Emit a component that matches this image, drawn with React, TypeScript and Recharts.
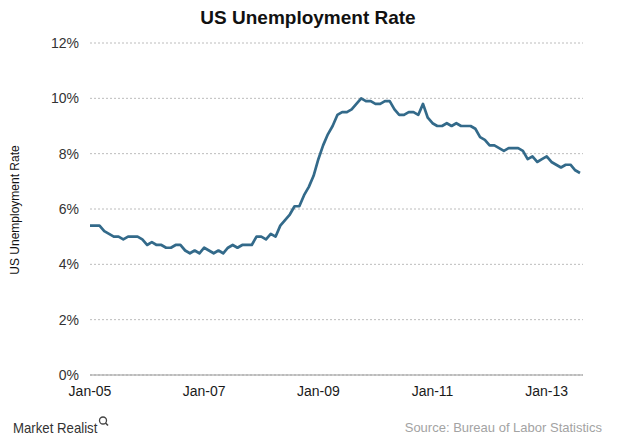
import { LineChart, Line, XAxis, YAxis, CartesianGrid } from 'recharts';

// monthly US unemployment rate, Jan 2005 - Aug 2013 (%)
const rate2005 = [5.4, 5.4, 5.4, 5.2, 5.1, 5.0, 5.0, 4.9, 5.0, 5.0, 5.0, 4.9];
const rate2006 = [4.7, 4.8, 4.7, 4.7, 4.6, 4.6, 4.7, 4.7, 4.5, 4.4, 4.5, 4.4];
const rate2007 = [4.6, 4.5, 4.4, 4.5, 4.4, 4.6, 4.7, 4.6, 4.7, 4.7, 4.7, 5.0];
const rate2008 = [5.0, 4.9, 5.1, 5.0, 5.4, 5.6, 5.8, 6.1, 6.1, 6.5, 6.8, 7.2];
const rate2009 = [7.8, 8.3, 8.7, 9.0, 9.4, 9.5, 9.5, 9.6, 9.8, 10.0, 9.9, 9.9];
const rate2010 = [9.8, 9.8, 9.9, 9.9, 9.6, 9.4, 9.4, 9.5, 9.5, 9.4, 9.8, 9.3];
const rate2011 = [9.1, 9.0, 9.0, 9.1, 9.0, 9.1, 9.0, 9.0, 9.0, 8.9, 8.6, 8.5];
const rate2012 = [8.3, 8.3, 8.2, 8.1, 8.2, 8.2, 8.2, 8.1, 7.8, 7.9, 7.7, 7.8];
const rate2013 = [7.9, 7.7, 7.6, 7.5, 7.6, 7.6, 7.4, 7.3];

const years = ['05', '06', '07', '08', '09', '10', '11', '12', '13'];
const monthNames = ['Jan', 'Feb', 'Mar', 'Apr', 'May', 'Jun', 'Jul', 'Aug', 'Sep', 'Oct', 'Nov', 'Dec'];

const xTicks = [0, 24, 48, 72, 96];
const yTicks = [0, 2, 4, 6, 8, 10, 12];

const rates = [
    ...rate2005, ...rate2006, ...rate2007, ...rate2008, ...rate2009,
    ...rate2010, ...rate2011, ...rate2012, ...rate2013,
];
const monthLabels = rates.map((_, i) => `${monthNames[i % 12]}-${years[Math.floor(i / 12)]}`);
const chartData = rates.map((rate, i) => ({ idx: i, month: monthLabels[i], rate }));

const FONT = 'Arial, "Liberation Sans", sans-serif';

function App() {
    return (
        <div style={{ position: 'absolute', left: 0, top: 0, width: 620, height: 442, background: '#fff', fontFamily: FONT }}>
            {/* 제목 */}
            <div style={{
                position: 'absolute', left: 0, top: 5, width: 616, textAlign: 'center',
                fontSize: 19, fontWeight: 'bold', color: '#111', lineHeight: '26px'
            }}>
                US Unemployment Rate
            </div>

            {/* 세로축 제목 */}
            <div style={{
                position: 'absolute', left: 15, top: 210, width: 0, height: 0
            }}>
                <div style={{
                    position: 'absolute', left: 0, top: 0, transform: 'translate(-50%, -50%) rotate(-90deg)',
                    whiteSpace: 'nowrap', fontSize: 12, color: '#111', lineHeight: '14px'
                }}>
                    US Unemployment Rate
                </div>
            </div>

            <LineChart width={620} height={442} data={chartData}
                margin={{ top: 43, right: 37, left: 0, bottom: 37 }}>
                <CartesianGrid vertical={false} stroke="#bcbcbc" strokeDasharray="2 2" />
                <XAxis
                    type="number"
                    dataKey="idx"
                    domain={[0, rates.length - 1]}
                    ticks={xTicks}
                    tickFormatter={(v: number) => monthLabels[v]}
                    padding={{ left: 0, right: 3 }}
                    height={30}
                    tickSize={0}
                    tickMargin={11}
                    axisLine={{ stroke: '#999' }}
                    tick={{ fontSize: 14, fill: '#1a1a1a', fontFamily: FONT }} />
                <YAxis
                    domain={[0, 12]}
                    ticks={yTicks}
                    tickFormatter={(v: number) => `${v}%`}
                    width={90}
                    tickSize={0}
                    tickMargin={11}
                    axisLine={false}
                    tickLine={false}
                    tick={{ fontSize: 14, fill: '#333', fontFamily: FONT }} />
                <Line
                    type="linear"
                    dataKey="rate"
                    stroke="#336a8a"
                    strokeWidth={2.7}
                    strokeLinejoin="round"
                    dot={false}
                    activeDot={false}
                    isAnimationActive={false} />
            </LineChart>

            {/* 하단 로고와 출처 */}
            <div style={{
                position: 'absolute', left: 13, top: 418, fontSize: 15, color: '#333',
                lineHeight: '20px', transform: 'scaleX(0.88)', transformOrigin: 'left center', whiteSpace: 'nowrap'
            }}>
                Market Realist
            </div>
            <svg style={{ position: 'absolute', left: 97, top: 415 }} width={14} height={14}>
                <circle cx={6} cy={5.5} r={3.5} fill="none" stroke="#444" strokeWidth={1.3} />
                <line x1={8.5} y1={8} x2={11} y2={10.5} stroke="#444" strokeWidth={1.6} />
            </svg>
            <div style={{
                position: 'absolute', right: 18, top: 419, fontSize: 13, color: '#a3a3a3',
                lineHeight: '18px', whiteSpace: 'nowrap'
            }}>
                Source: Bureau of Labor Statistics
            </div>
        </div>
    );
}

export default App;
